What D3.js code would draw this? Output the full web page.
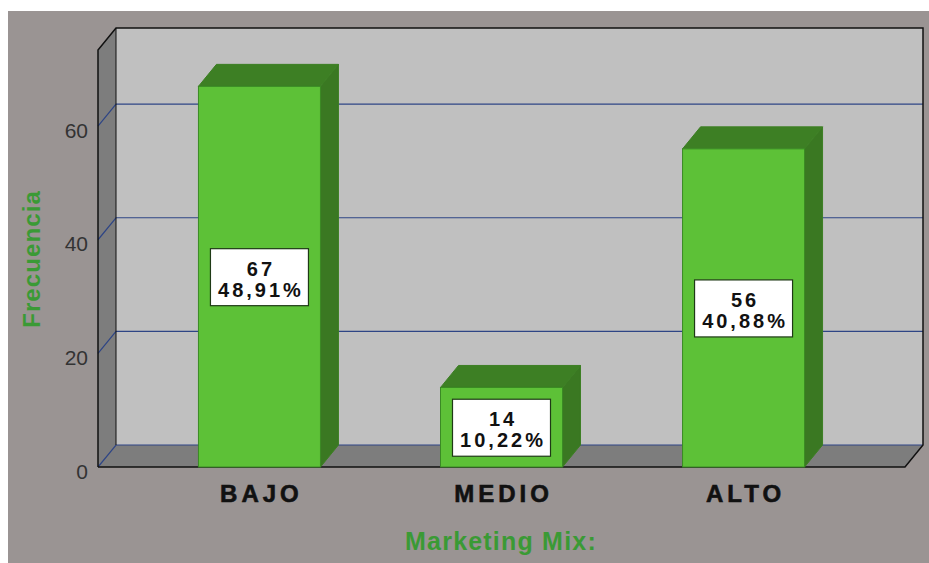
<!DOCTYPE html>
<html>
<head>
<meta charset="utf-8">
<script src="https://cdn.jsdelivr.net/npm/d3@7"></script>
<style>
  html, body { margin: 0; padding: 0; background: #fff; }
  svg { display: block; }
</style>
</head>
<body>
<div id="chart"></div>
<script>
const categories = ['BAJO', 'MEDIO', 'ALTO'];
const counts = [67, 14, 56];
const percents = ['48,91%', '10,22%', '40,88%'];
const yTicks = [0, 20, 40, 60];

const W = 929, H = 563;
const depth = { dx: 18, dy: 22 };
const plot = { left: 98, right: 905, bottom: 467 };
const font = '"Liberation Sans", Arial, sans-serif';

const colors = {
  page: '#9a9493',
  wall: '#c0c0c0',
  side: '#7d7d7d',
  grid: '#2e4585',
  barFront: '#5dc137',
  barTop: '#3d7f24',
  barSide: '#3a7822',
  barEdge: '#3a8a24',
  title: '#3a9a35'
};

const svg = d3.select('#chart').append('svg')
  .attr('width', W).attr('height', H);

// page background, thin white strip on top/left
svg.append('rect').attr('x', 0).attr('y', 0).attr('width', W).attr('height', H).attr('fill', '#fff');
svg.append('rect').attr('x', 8).attr('y', 11).attr('width', W - 8).attr('height', H - 11).attr('fill', colors.page);

const y = d3.scaleLinear().domain([0, 73.4]).range([plot.bottom, 50]);
const x = d3.scaleBand().domain(categories)
  .range([plot.left, plot.right])
  .paddingInner(0.496).paddingOuter(0.415);

const { dx, dy } = depth;
const yTop = y.range()[1];
const line = d3.line();

// back wall
svg.append('rect')
  .attr('x', plot.left + dx).attr('y', yTop - dy)
  .attr('width', plot.right - plot.left).attr('height', plot.bottom - yTop)
  .attr('fill', colors.wall);

// left wall
svg.append('path')
  .attr('d', line([[plot.left, yTop], [plot.left + dx, yTop - dy], [plot.left + dx, plot.bottom - dy], [plot.left, plot.bottom]]) + 'Z')
  .attr('fill', colors.side);

// floor
svg.append('path')
  .attr('d', line([[plot.left, plot.bottom], [plot.left + dx, plot.bottom - dy], [plot.right + dx, plot.bottom - dy], [plot.right, plot.bottom]]) + 'Z')
  .attr('fill', colors.side);

// gridlines: diagonal on left wall then across back wall
const grid = svg.append('g').attr('class', 'grid');
yTicks.forEach(t => {
  const yy = y(t);
  grid.append('path')
    .attr('d', line([[plot.left, yy], [plot.left + dx, yy - dy], [plot.right + dx, yy - dy]]))
    .attr('fill', 'none').attr('stroke', colors.grid).attr('stroke-width', 1.2);
});

// frame outlines
const frame = svg.append('g').attr('fill', 'none').attr('stroke', '#111').attr('stroke-width', 1.5);
frame.append('path').attr('d', line([[plot.left, plot.bottom], [plot.left, yTop], [plot.left + dx, yTop - dy], [plot.right + dx, yTop - dy], [plot.right + dx, plot.bottom - dy], [plot.right, plot.bottom], [plot.left, plot.bottom]]));
frame.append('path').attr('d', line([[plot.left + dx, yTop - dy], [plot.left + dx, plot.bottom - dy]])).attr('stroke-width', 1);

// y tick labels
svg.append('g').selectAll('text').data(yTicks).join('text')
  .attr('x', 88).attr('y', d => y(d) + 11.5)
  .attr('text-anchor', 'end')
  .attr('font-family', font)
  .attr('font-size', 21).attr('fill', '#333')
  .text(d => d);

// bars
const bars = svg.append('g').selectAll('g').data(categories).join('g');
bars.each(function(c, i) {
  const g = d3.select(this);
  const x0 = x(c), x1 = x(c) + x.bandwidth();
  const yv = y(counts[i]), y0 = y(0);
  g.append('path')
    .attr('d', line([[x1, yv], [x1 + dx, yv - dy], [x1 + dx, y0 - dy], [x1, y0]]) + 'Z')
    .attr('fill', colors.barSide).attr('stroke', colors.barTop).attr('stroke-width', 1);
  g.append('path')
    .attr('d', line([[x0, yv], [x0 + dx, yv - dy], [x1 + dx, yv - dy], [x1, yv]]) + 'Z')
    .attr('fill', colors.barTop).attr('stroke', colors.barTop).attr('stroke-width', 1);
  g.append('rect')
    .attr('x', x0).attr('y', yv).attr('width', x1 - x0).attr('height', y0 - yv)
    .attr('fill', colors.barFront).attr('stroke', colors.barEdge).attr('stroke-width', 1);

  const cx = (x0 + x1) / 2, cy = (yv + y0) / 2;
  g.append('rect')
    .attr('x', cx - 49).attr('y', cy - 28).attr('width', 98).attr('height', 57)
    .attr('fill', '#fff').attr('stroke', '#1f3a16').attr('stroke-width', 1.2);
  const lbl = g.append('text')
    .attr('text-anchor', 'middle')
    .attr('font-family', font)
    .attr('font-weight', 'bold').attr('font-size', 20)
    .attr('letter-spacing', 3).attr('fill', '#111');
  lbl.append('tspan').attr('x', cx + 1.5).attr('y', cy - 1).text(counts[i]);
  lbl.append('tspan').attr('x', cx + 1.5).attr('y', cy + 20).text(percents[i]);
});

// category labels
svg.append('g').selectAll('text').data(categories).join('text')
  .attr('x', d => x(d) + x.bandwidth() / 2 + 2)
  .attr('y', 502)
  .attr('text-anchor', 'middle')
  .attr('font-family', font)
  .attr('font-weight', 'bold').attr('font-size', 24)
  .attr('letter-spacing', 4).attr('fill', '#111')
  .attr('stroke', '#111').attr('stroke-width', 0.6)
  .text(d => d);

// axis titles
svg.append('text')
  .attr('x', 501).attr('y', 550)
  .attr('text-anchor', 'middle')
  .attr('font-family', font)
  .attr('font-weight', 'bold').attr('font-size', 25)
  .attr('letter-spacing', 1.2)
  .attr('fill', colors.title)
  .text('Marketing Mix:');

svg.append('text')
  .attr('transform', 'translate(40,259) rotate(-90)')
  .attr('text-anchor', 'middle')
  .attr('font-family', font)
  .attr('font-weight', 'bold').attr('font-size', 24)
  .attr('letter-spacing', 1.1)
  .attr('fill', colors.title)
  .text('Frecuencia');
</script>
</body>
</html>
